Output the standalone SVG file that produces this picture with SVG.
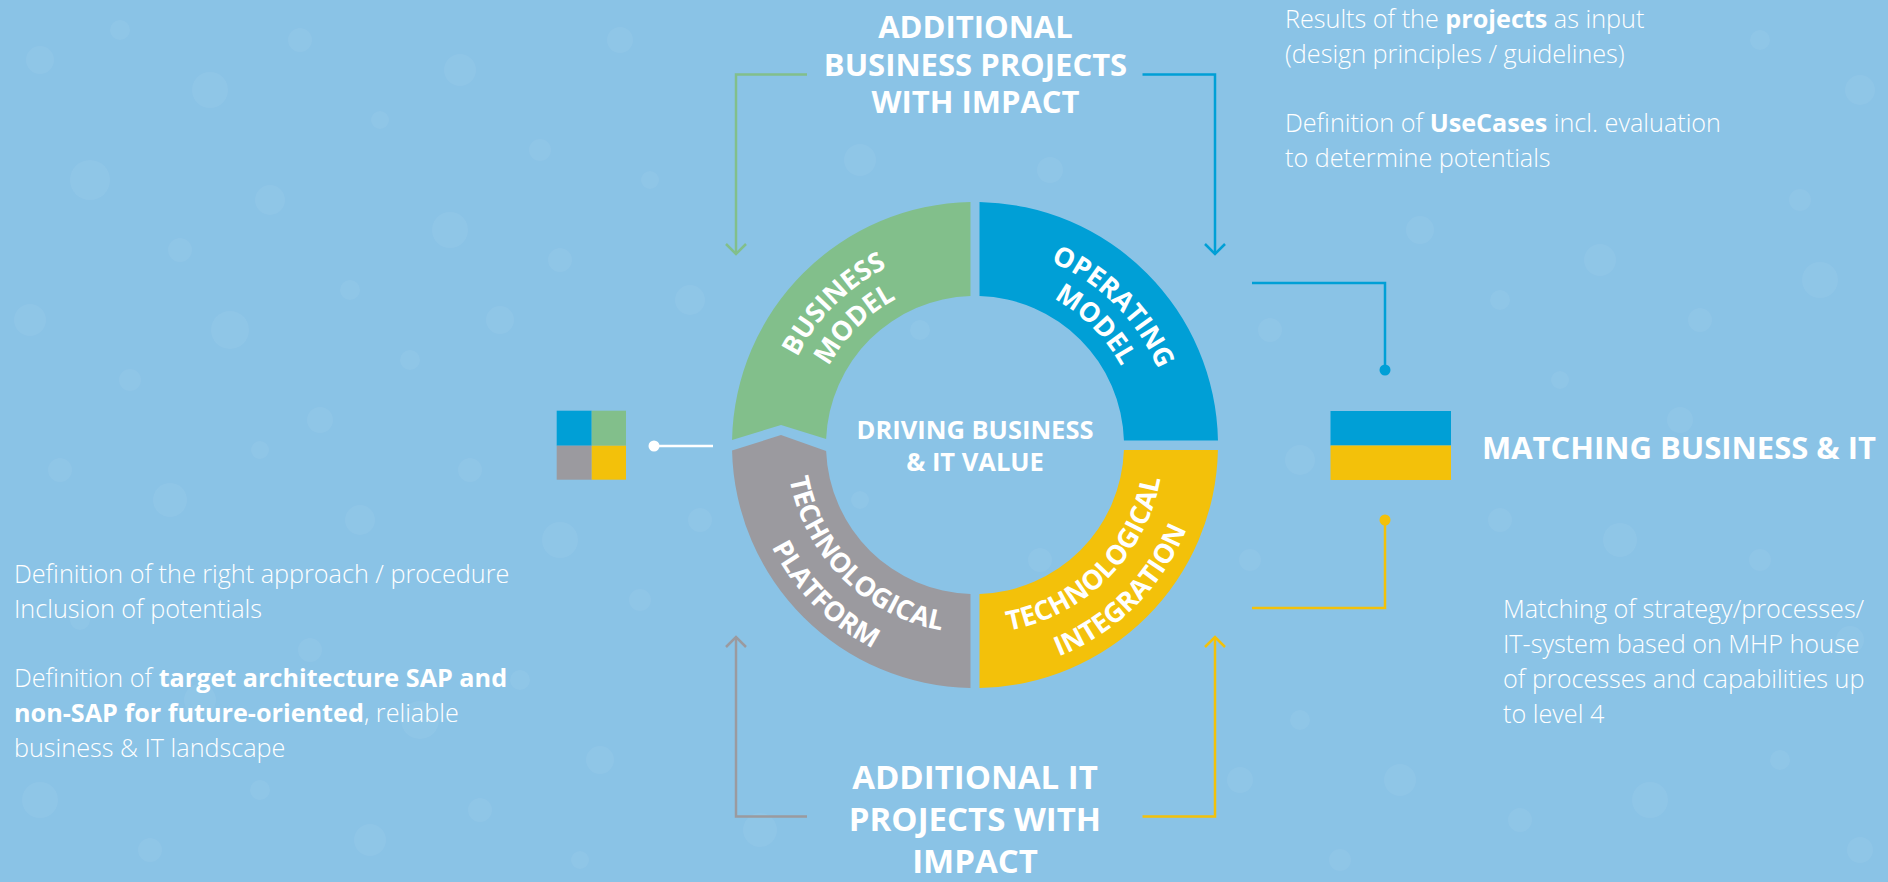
<svg xmlns="http://www.w3.org/2000/svg" xmlns:xlink="http://www.w3.org/1999/xlink" width="1888" height="882" viewBox="0 0 1888 882">
  <defs>
    <style>
      .bg{fill:#8AC3E6}
      #bubbles circle{fill:#fff;fill-opacity:.05}
      .t{font-family:"Open Sans","Liberation Sans",sans-serif;fill:#fff}
      .lt{font-weight:300;font-size:25.2px}
      .b{font-weight:700}
      .head{font-weight:700}
      .seg{font-family:"Open Sans","Liberation Sans",sans-serif;font-weight:700;font-size:27px;fill:#fff}
      .conn{fill:none;stroke-width:2.5}
      .green{fill:#82BF8B}
      .blue{fill:#009FD6}
      .gray{fill:#9B9A9F}
      .yellow{fill:#F3C10A}
    </style>
    <marker id="arr-green" viewBox="-12 -12 24 24" refX="0" refY="0" markerWidth="24" markerHeight="24" markerUnits="userSpaceOnUse" orient="auto">
      <path d="M-10,-10 L0,0 L-10,10" fill="none" stroke="#82BF8B" stroke-width="2.5"/>
    </marker>
    <marker id="arr-blue" viewBox="-12 -12 24 24" refX="0" refY="0" markerWidth="24" markerHeight="24" markerUnits="userSpaceOnUse" orient="auto">
      <path d="M-10,-10 L0,0 L-10,10" fill="none" stroke="#009FD6" stroke-width="2.5"/>
    </marker>
    <marker id="arr-gray" viewBox="-12 -12 24 24" refX="0" refY="0" markerWidth="24" markerHeight="24" markerUnits="userSpaceOnUse" orient="auto">
      <path d="M-10,-10 L0,0 L-10,10" fill="none" stroke="#9B9A9F" stroke-width="2.5"/>
    </marker>
    <marker id="arr-yellow" viewBox="-12 -12 24 24" refX="0" refY="0" markerWidth="24" markerHeight="24" markerUnits="userSpaceOnUse" orient="auto">
      <path d="M-10,-10 L0,0 L-10,10" fill="none" stroke="#F3C10A" stroke-width="2.5"/>
    </marker>
    <!-- label baselines around the ring centre (975,445) -->
    <path id="arc-bm-outer" d="M834.99,585.01 A198,198 0 0 1 1115.01,304.99"/>
    <path id="arc-bm-inner" d="M857.62,562.38 A166,166 0 0 1 1092.38,327.62"/>
    <path id="arc-om-outer" d="M834.99,304.99 A198,198 0 0 1 1115.01,585.01"/>
    <path id="arc-om-inner" d="M857.62,327.62 A166,166 0 0 1 1092.38,562.38"/>
    <path id="arc-tp-inner" d="M841.71,311.71 A188.5,188.5 0 0 0 1108.29,578.29"/>
    <path id="arc-tp-outer" d="M814.13,284.13 A227.5,227.5 0 0 0 1135.87,605.87"/>
    <path id="arc-ti-inner" d="M841.71,578.29 A188.5,188.5 0 0 0 1108.29,311.71"/>
    <path id="arc-ti-outer" d="M814.13,605.87 A227.5,227.5 0 0 0 1135.87,284.13"/>
  </defs>

  <rect class="bg" x="0" y="0" width="1888" height="882"/>

  <!-- faint dotted texture -->
  <g id="bubbles">
    <circle cx="40" cy="60" r="14"/><circle cx="120" cy="30" r="10"/><circle cx="210" cy="90" r="18"/>
    <circle cx="300" cy="40" r="12"/><circle cx="380" cy="120" r="9"/><circle cx="460" cy="70" r="16"/>
    <circle cx="540" cy="150" r="11"/><circle cx="620" cy="40" r="13"/><circle cx="90" cy="180" r="20"/>
    <circle cx="180" cy="250" r="12"/><circle cx="270" cy="200" r="15"/><circle cx="350" cy="290" r="10"/>
    <circle cx="450" cy="230" r="18"/><circle cx="560" cy="260" r="12"/><circle cx="650" cy="180" r="9"/>
    <circle cx="30" cy="320" r="16"/><circle cx="130" cy="380" r="11"/><circle cx="230" cy="330" r="19"/>
    <circle cx="320" cy="420" r="13"/><circle cx="410" cy="360" r="10"/><circle cx="500" cy="320" r="14"/>
    <circle cx="60" cy="470" r="12"/><circle cx="170" cy="500" r="17"/><circle cx="260" cy="450" r="9"/>
    <circle cx="360" cy="520" r="15"/><circle cx="470" cy="470" r="12"/><circle cx="560" cy="540" r="18"/>
    <circle cx="640" cy="600" r="11"/><circle cx="80" cy="620" r="10"/><circle cx="200" cy="700" r="16"/>
    <circle cx="310" cy="650" r="12"/><circle cx="420" cy="720" r="19"/><circle cx="520" cy="680" r="10"/>
    <circle cx="600" cy="760" r="14"/><circle cx="40" cy="800" r="18"/><circle cx="150" cy="850" r="12"/>
    <circle cx="260" cy="790" r="10"/><circle cx="370" cy="840" r="16"/><circle cx="480" cy="810" r="12"/>
    <circle cx="580" cy="860" r="9"/><circle cx="690" cy="300" r="15"/><circle cx="700" cy="520" r="12"/>
    <circle cx="860" cy="160" r="16"/><circle cx="1050" cy="170" r="13"/><circle cx="880" cy="620" r="14"/>
    <circle cx="1100" cy="620" r="11"/><circle cx="760" cy="830" r="17"/><circle cx="1240" cy="780" r="13"/>
    <circle cx="1300" cy="720" r="10"/><circle cx="1270" cy="330" r="12"/><circle cx="1300" cy="460" r="15"/>
    <circle cx="1250" cy="560" r="11"/><circle cx="1330" cy="160" r="9"/><circle cx="1420" cy="230" r="14"/>
    <circle cx="1500" cy="300" r="10"/><circle cx="1600" cy="260" r="16"/><circle cx="1700" cy="320" r="12"/>
    <circle cx="1820" cy="280" r="18"/><circle cx="1560" cy="380" r="9"/><circle cx="1680" cy="420" r="13"/>
    <circle cx="1800" cy="200" r="11"/><circle cx="1860" cy="90" r="15"/><circle cx="1760" cy="40" r="10"/>
    <circle cx="1500" cy="520" r="12"/><circle cx="1620" cy="540" r="17"/><circle cx="1760" cy="560" r="11"/>
    <circle cx="1850" cy="640" r="14"/><circle cx="1400" cy="780" r="16"/><circle cx="1520" cy="820" r="12"/>
    <circle cx="1650" cy="800" r="18"/><circle cx="1780" cy="760" r="10"/><circle cx="1860" cy="850" r="13"/>
    <circle cx="1340" cy="860" r="11"/><circle cx="920" cy="330" r="10"/><circle cx="1040" cy="560" r="12"/>
    <circle cx="860" cy="500" r="9"/>
  </g>

  <!-- connectors -->
  <g id="connectors">
    <path class="conn" stroke="#82BF8B" d="M807,74.5 H736 V254" marker-end="url(#arr-green)"/>
    <path class="conn" stroke="#009FD6" d="M1142.5,74.5 H1215 V254" marker-end="url(#arr-blue)"/>
    <path class="conn" stroke="#9B9A9F" d="M807,816.5 H736 V637" marker-end="url(#arr-gray)"/>
    <path class="conn" stroke="#F3C10A" d="M1142.5,816.5 H1215 V637" marker-end="url(#arr-yellow)"/>
    <path class="conn" stroke="#009FD6" d="M1252,283 H1385 V370"/>
    <circle cx="1385" cy="370" r="5.5" fill="#009FD6"/>
    <path class="conn" stroke="#F3C10A" d="M1385,520 V608 H1252"/>
    <circle cx="1385" cy="520" r="5.5" fill="#F3C10A"/>
    <path class="conn" stroke="#fff" d="M654,446 H713"/>
    <circle cx="654" cy="446" r="5.5" fill="#fff"/>
  </g>

  <!-- ring segments -->
  <g id="node-business-model">
    <path class="green" d="M732.05,440 A243,243 0 0 1 970.5,202.04 L970.5,296.07 A149,149 0 0 0 826.12,439 L781,425 Z"/>
    <text class="seg"><textPath xlink:href="#arc-bm-outer" startOffset="50%" text-anchor="middle">BUSINESS</textPath></text>
    <text class="seg"><textPath xlink:href="#arc-bm-inner" startOffset="50%" text-anchor="middle">MODEL</textPath></text>
  </g>
  <g id="node-operating-model">
    <path class="blue" d="M979.5,202.04 A243,243 0 0 1 1217.96,440.5 L1123.93,440.5 A149,149 0 0 0 979.5,296.07 Z"/>
    <text class="seg"><textPath xlink:href="#arc-om-outer" startOffset="50%" text-anchor="middle">OPERATING</textPath></text>
    <text class="seg"><textPath xlink:href="#arc-om-inner" startOffset="50%" text-anchor="middle">MODEL</textPath></text>
  </g>
  <g id="node-technological-integration">
    <path class="yellow" d="M1217.95,450 A243,243 0 0 1 979.5,687.96 L979.5,593.93 A149,149 0 0 0 1123.92,450 Z"/>
    <text class="seg"><textPath xlink:href="#arc-ti-inner" startOffset="50%" text-anchor="middle">TECHNOLOGICAL</textPath></text>
    <text class="seg"><textPath xlink:href="#arc-ti-outer" startOffset="50%" text-anchor="middle">INTEGRATION</textPath></text>
  </g>
  <g id="node-technological-platform">
    <path class="gray" d="M970.5,687.96 A243,243 0 0 1 732.06,450.5 L781,435 L826.12,451 A149,149 0 0 0 970.5,593.93 Z"/>
    <text class="seg"><textPath xlink:href="#arc-tp-inner" startOffset="50%" text-anchor="middle">TECHNOLOGICAL</textPath></text>
    <text class="seg"><textPath xlink:href="#arc-tp-outer" startOffset="50%" text-anchor="middle">PLATFORM</textPath></text>
  </g>

  <g id="node-center">
    <text class="t head" font-size="25.5" text-anchor="middle" x="975" y="439">DRIVING BUSINESS</text>
    <text class="t head" font-size="25.5" text-anchor="middle" x="975" y="471">&amp; IT VALUE</text>
  </g>

  <g id="node-business-projects">
    <text class="t head" font-size="31" text-anchor="middle" x="975.5" y="37.7">ADDITIONAL</text>
    <text class="t head" font-size="31" text-anchor="middle" x="975.5" y="75.5">BUSINESS PROJECTS</text>
    <text class="t head" font-size="31" text-anchor="middle" x="975.5" y="113.3">WITH IMPACT</text>
  </g>

  <g id="node-it-projects">
    <text class="t head" font-size="33" text-anchor="middle" x="975" y="788.5">ADDITIONAL IT</text>
    <text class="t head" font-size="33" text-anchor="middle" x="975" y="830.5">PROJECTS WITH</text>
    <text class="t head" font-size="33" text-anchor="middle" x="975" y="872.5">IMPACT</text>
  </g>

  <g id="node-results">
    <text class="t lt" x="1285" y="28.3">Results of the <tspan class="b">projects</tspan> as input</text>
    <text class="t lt" x="1285" y="63.3">(design principles / guidelines)</text>
    <text class="t lt" x="1285" y="131.7">Definition of <tspan class="b">UseCases</tspan> incl. evaluation</text>
    <text class="t lt" x="1285" y="166.7">to determine potentials</text>
  </g>

  <g id="node-four-square">
    <rect class="blue" x="556.7" y="410.7" width="35" height="35"/>
    <rect class="green" x="591.7" y="410.7" width="34.3" height="35"/>
    <rect class="gray" x="556.7" y="445.7" width="35" height="34"/>
    <rect class="yellow" x="591.7" y="445.7" width="34.3" height="34"/>
  </g>

  <g id="node-approach">
    <text class="t lt" x="14" y="583.3">Definition of the right approach / procedure</text>
    <text class="t lt" x="14" y="618.3">Inclusion of potentials</text>
    <text class="t lt" x="14" y="686.7">Definition of <tspan class="b">target architecture SAP and</tspan></text>
    <text class="t lt" x="14" y="721.7"><tspan class="b">non-SAP for future-oriented</tspan>, reliable</text>
    <text class="t lt" x="14" y="756.7">business &amp; IT landscape</text>
  </g>

  <g id="node-matching">
    <rect class="blue" x="1330.5" y="411" width="120.5" height="34.5"/>
    <rect class="yellow" x="1330.5" y="445.5" width="120.5" height="34.5"/>
    <text class="t head" font-size="31" x="1482" y="459">MATCHING BUSINESS &amp; IT</text>
  </g>

  <g id="node-matching-detail">
    <text class="t lt" x="1503" y="618.3">Matching of strategy/processes/</text>
    <text class="t lt" x="1503" y="653.3">IT-system based on MHP house</text>
    <text class="t lt" x="1503" y="688.3">of processes and capabilities up</text>
    <text class="t lt" x="1503" y="723.3">to level 4</text>
  </g>
</svg>
